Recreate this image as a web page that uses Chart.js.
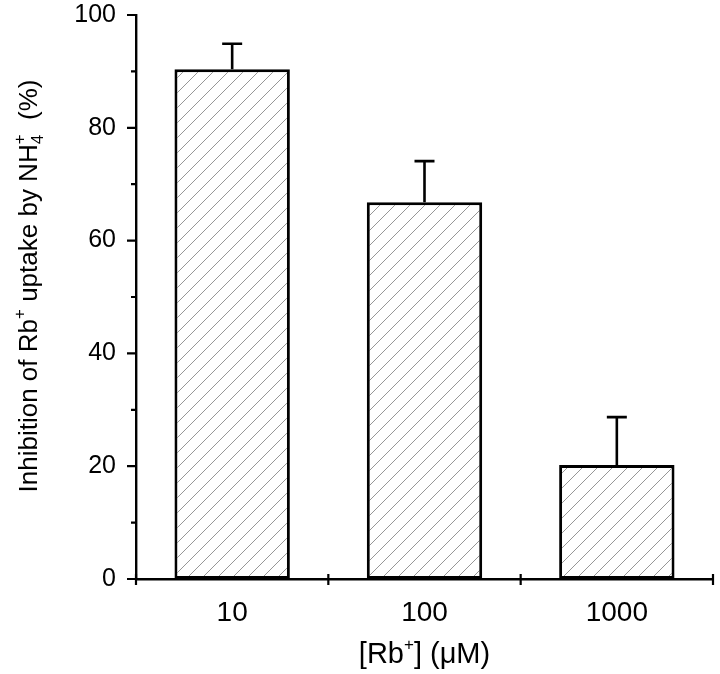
<!DOCTYPE html>
<html>
<head>
<meta charset="utf-8">
<script src="https://cdn.jsdelivr.net/npm/chart.js@4.4.3/dist/chart.umd.min.js"></script>
<style>
	html, body { margin: 0; padding: 0; background: #fff; }
	#chart { display: block; }
</style>
</head>
<body>
<canvas id="chart" width="720" height="674"></canvas>
<script>
(function () {
	'use strict';

	// Data.
	var categories = ['10', '100', '1000'];
	var inhibition = [90.4, 66.8, 20.2];   // bar heights (%)
	var errUp      = [4.5, 7.3, 8.5];      // upper error (%)
	var yTicks     = [0, 20, 40, 60, 80, 100];

	var FONT = '"Liberation Sans", Arial, Helvetica, sans-serif';

	// Diagonal hatch fill.
	function makeHatch() {
		var c = document.createElement('canvas');
		c.width = 15; c.height = 15;
		var g = c.getContext('2d');
		g.fillStyle = '#fff';
		g.fillRect(0, 0, 15, 15);
		g.strokeStyle = '#8a8a8a';
		g.lineWidth = 0.9;
		g.beginPath();
		g.moveTo(0, 15); g.lineTo(15, 0);
		g.moveTo(-2, 2); g.lineTo(2, -2);
		g.moveTo(13, 17); g.lineTo(17, 13);
		g.stroke();
		return g.createPattern(c, 'repeat');
	}

	// Draw a run of text pieces: {t, dy, size}.
	function drawPieces(ctx, pieces, x, y, align) {
		var total = 0;
		pieces.forEach(function (p) {
			ctx.font = p.size + 'px ' + FONT;
			p.w = p.noAdvance ? 0 : ctx.measureText(p.t).width;
			total += p.w;
		});
		var cx = align === 'center' ? x - total / 2 : x;
		pieces.forEach(function (p) {
			ctx.font = p.size + 'px ' + FONT;
			ctx.fillText(p.t, cx, y + (p.dy || 0));
			cx += p.w;
		});
	}

	// Axis ticks, error bars and axis titles.
	var decorPlugin = {
		id: 'decor',
		afterDatasetsDraw: function (chart) {
			var ctx = chart.ctx;
			var xs = chart.scales.x;
			var ys = chart.scales.y;
			var area = chart.chartArea;
			ctx.save();
			ctx.strokeStyle = '#000';
			ctx.lineWidth = 2.2;

			// y ticks: major every 20, minor every 10.
			ctx.beginPath();
			for (var v = 0; v <= 100; v += 10) {
				var py = ys.getPixelForValue(v);
				var len = v % 20 === 0 ? 9 : 5;
				ctx.moveTo(area.left - len, py);
				ctx.lineTo(area.left, py);
			}
			// x ticks at category boundaries, crossing the axis.
			for (var i = 0; i <= categories.length; i++) {
				var px = xs.getPixelForValue(i - 0.5);
				ctx.moveTo(px, area.bottom - 5);
				ctx.lineTo(px, area.bottom + 6);
			}
			ctx.stroke();

			// Error bars (upper only).
			var meta = chart.getDatasetMeta(0);
			ctx.lineWidth = 2.6;
			ctx.beginPath();
			meta.data.forEach(function (bar, k) {
				var top = ys.getPixelForValue(inhibition[k] + errUp[k]);
				ctx.moveTo(bar.x, bar.y);
				ctx.lineTo(bar.x, top);
				ctx.moveTo(bar.x - 10, top);
				ctx.lineTo(bar.x + 10, top);
			});
			ctx.stroke();

			// Axis titles.
			ctx.fillStyle = '#000';
			ctx.textBaseline = 'alphabetic';
			ctx.textAlign = 'left';
			drawPieces(ctx, [
				{ t: '[Rb', size: 29 },
				{ t: '+', size: 17, dy: -13 },
				{ t: '] (\u03BCM)', size: 29 }
			], (area.left + area.right) / 2, 663, 'center');

			ctx.translate(37, 286);
			ctx.rotate(-Math.PI / 2);
			drawPieces(ctx, [
				{ t: 'Inhibition of Rb', size: 26 },
				{ t: '+', size: 17, dy: -12 },
				{ t: ' uptake by NH', size: 26 },
				{ t: '4', size: 17, dy: 6, noAdvance: true },
				{ t: '+', size: 17, dy: -12 },
				{ t: '  (%)', size: 26 }
			], 0, 0, 'center');
			ctx.restore();
		}
	};

	var canvas = document.getElementById('chart');

	new Chart(canvas, {
		type: 'bar',
		data: {
			labels: categories,
			datasets: [{
				data: inhibition,
				backgroundColor: makeHatch(),
				borderColor: '#000',
				borderWidth: 3,
				borderSkipped: false,
				barPercentage: 0.6,
				categoryPercentage: 1.0
			}]
		},
		options: {
			responsive: false,
			animation: false,
			devicePixelRatio: 1,
			layout: { padding: { top: 15, right: 7, left: 0, bottom: 0 } },
			plugins: {
				legend: { display: false },
				tooltip: { enabled: false }
			},
			scales: {
				x: {
					offset: true,
					grid: { display: false },
					border: { display: true, color: '#000', width: 2.4 },
					ticks: {
						color: '#000',
						padding: 9,
						maxRotation: 0,
						font: { family: FONT, size: 28 }
					},
					afterFit: function (s) {
						s.height = 95;
						s.paddingLeft = 0;
						s.paddingRight = 0;
					}
				},
				y: {
					min: 0,
					max: 100,
					grid: { display: false },
					border: { display: true, color: '#000', width: 2.4 },
					afterBuildTicks: function (s) {
						s.ticks = yTicks.map(function (v) { return { value: v }; });
					},
					ticks: {
						color: '#000',
						padding: 12,
						font: { family: FONT, size: 25 }
					},
					afterFit: function (s) {
						s.width = 136;
						s.paddingTop = 0;
						s.paddingBottom = 0;
					}
				}
			}
		},
		plugins: [decorPlugin]
	});
})();
</script>
</body>
</html>
